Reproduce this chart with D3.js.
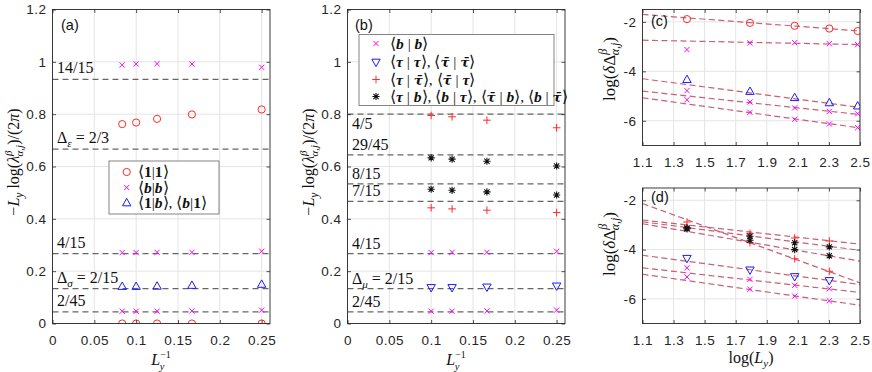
<!DOCTYPE html>
<html><head><meta charset="utf-8">
<script src="https://cdn.jsdelivr.net/npm/d3@7"></script>
<style>
body{margin:0;background:#fff;}
svg{display:block;}
</style></head>
<body>
<svg id="chart" width="872" height="372"></svg>
<script>
// ---------------- DATA ----------------
const LyA = [12, 10, 8, 6, 4];           // panel (a): x = 1/Ly
const LyB = [10, 8, 6, 4];               // panel (b)
const LyC = [4, 6, 8, 10, 12];           // panel (c): x = log(Ly)
const LyD = [4, 6, 8, 10];               // panel (d)

// panel (a)
const a_11_low  = [0, 0, 0, 0, 0];
const a_11_high = [0.762, 0.768, 0.782, 0.799, 0.818];
const a_bb_top  = [0.988, 0.992, 0.993, 0.992, 0.979];
const a_bb_mid  = [0.271, 0.271, 0.272, 0.272, 0.276];
const a_bb_low  = [0.047, 0.047, 0.047, 0.048, 0.051];
const a_1b      = [0.141, 0.141, 0.142, 0.145, 0.149];

// panel (b)
const b_bb_mid   = [0.271, 0.272, 0.272, 0.276];
const b_bb_low   = [0.047, 0.047, 0.048, 0.051];
const b_tt       = [0.138, 0.138, 0.140, 0.144];
const b_ttb_high = [0.795, 0.790, 0.777, 0.748];
const b_ttb_low  = [0.442, 0.438, 0.433, 0.424];
const b_tb_high  = [0.633, 0.628, 0.620, 0.602];
const b_tb_low   = [0.513, 0.509, 0.503, 0.491];

// panel (c)
const c_11  = [-1.89, -2.04, -2.16, -2.27, -2.37];
const c_bb1 = [-3.12, -2.85, -2.84, -2.88, -2.92];
const c_1b  = [-4.34, -4.82, -5.07, -5.28, -5.41];
const c_bb2 = [-4.78, -5.24, -5.48, -5.62, -5.72];
const c_bb3 = [-5.15, -5.66, -5.94, -6.13, -6.28];
// fitted lines: values at log(Ly) = 1.1 and 2.5
const fitX = [1.1, 2.5];
const c_fits = [[-1.70, -2.37], [-2.74, -2.92], [-4.30, -5.46], [-4.80, -5.75], [-5.07, -6.29]];

// panel (d)
const d_ttbA = [-3.10, -3.34, -3.53, -3.65];
const d_tbB  = [-3.12, -3.46, -3.72, -3.89];
const d_tbC  = [-3.16, -3.62, -4.00, -4.25];
const d_ttbD = [-2.88, -3.72, -4.37, -4.88];
const d_tt   = [-4.35, -4.82, -5.09, -5.25];
const d_bb2  = [-4.74, -5.21, -5.45, -5.59];
const d_bb3  = [-5.11, -5.61, -5.89, -6.08];
const d_fits = [[-2.80, -3.78], [-2.87, -4.03], [-2.95, -4.47], [-2.13, -5.35], [-4.23, -5.42], [-4.74, -5.74], [-5.00, -6.26]];

// reference lines
const refA_values = [14/15, 2/3, 4/15, 2/15, 2/45];
const refA_labels = ["14/15", "Δ_ε = 2/3", "4/15", "Δ_σ = 2/15", "2/45"];
const refB_values = [4/5, 29/45, 8/15, 7/15, 4/15, 2/15, 2/45];
const refB_labels = ["4/5", "29/45", "8/15", "7/15", "4/15", "Δ_μ = 2/15", "2/45"];
const refB_below  = [true, false, false, false, false, false, false];

// ticks
const tickAB_x = [0, 0.05, 0.1, 0.15, 0.2, 0.25];
const tickAB_xl = ["0", "0.05", "0.1", "0.15", "0.2", "0.25"];
const tickAB_y = [0, 0.2, 0.4, 0.6, 0.8, 1, 1.2];
const tickAB_yl = ["0", "0.2", "0.4", "0.6", "0.8", "1", "1.2"];
const tickCD_x = [1.1, 1.3, 1.5, 1.7, 1.9, 2.1, 2.3, 2.5];
const tickCD_xl = ["1.1", "1.3", "1.5", "1.7", "1.9", "2.1", "2.3", "2.5"];
const tickCD_y = [-6, -4, -2];
const tickCD_yl = ["-6", "-4", "-2"];

// ---------------- STYLE ----------------
const RED = "#ff2a2a", MAG = "#ff00ff", BLUE = "#1a1aff", BLK = "#111";
const FIT = "#c24f68";
const SERIF = "'Liberation Serif','Times New Roman',serif";
const SANS = "'Liberation Sans',Arial,sans-serif";
const AXC = "#262626";

const svg = d3.select("#chart");

// -------------- helpers --------------
function marker(g, type, x, y, color) {
  const p = d3.path();
  if (type === "o") {
    g.append("circle").attr("cx", x).attr("cy", y).attr("r", 3.6)
      .attr("fill", "none").attr("stroke", color).attr("stroke-width", 1);
    return;
  }
  if (type === "x") {
    const s = 2.6;
    p.moveTo(x - s, y - s); p.lineTo(x + s, y + s);
    p.moveTo(x - s, y + s); p.lineTo(x + s, y - s);
  } else if (type === "+") {
    const s = 3.8;
    p.moveTo(x - s, y); p.lineTo(x + s, y);
    p.moveTo(x, y - s); p.lineTo(x, y + s);
  } else if (type === "*") {
    const s = 3.6, t = 2.6;
    p.moveTo(x - s, y); p.lineTo(x + s, y);
    p.moveTo(x, y - s); p.lineTo(x, y + s);
    p.moveTo(x - t, y - t); p.lineTo(x + t, y + t);
    p.moveTo(x - t, y + t); p.lineTo(x + t, y - t);
  } else if (type === "^") {
    p.moveTo(x, y - 4.6); p.lineTo(x + 4.2, y + 2.8); p.lineTo(x - 4.2, y + 2.8); p.closePath();
  } else if (type === "v") {
    p.moveTo(x, y + 4.6); p.lineTo(x + 4.2, y - 2.8); p.lineTo(x - 4.2, y - 2.8); p.closePath();
  }
  g.append("path").attr("d", p.toString()).attr("fill", "none")
    .attr("stroke", color).attr("stroke-width", type === "*" ? 1.1 : 1);
}

// math text with tspans; parts: {t, i, b, dy (offset from baseline), fs, dx, ff}
function mtext(g, x, y, parts, fs, anchor) {
  const t = g.append("text").attr("x", x).attr("y", y)
    .attr("font-family", SERIF).attr("font-size", fs).attr("fill", "#111")
    .attr("text-anchor", anchor || "start");
  let cur = 0;
  parts.forEach(p => {
    const ts = t.append("tspan").text(p.t);
    const target = p.dy || 0;
    if (target !== cur) { ts.attr("dy", target - cur); cur = target; }
    if (p.dx) ts.attr("dx", p.dx);
    if (p.i) ts.attr("font-style", "italic");
    if (p.b) ts.attr("font-weight", "bold");
    if (p.fs) ts.attr("font-size", p.fs);
    if (p.ff) ts.attr("font-family", p.ff);
  });
  return t;
}

function labelParts(s) {
  if (s.startsWith("Δ_")) {
    return [{t: "Δ"}, {t: s[2], i: true, dy: 4, fs: 11}, {t: s.slice(3), dy: 0}];
  }
  return [{t: s}];
}

function setupAxes(x, y, xt, yt) {
  const [x0, x1] = x.range(), [y1, y0] = y.range();
  const g = svg.append("g");
  g.selectAll(null).data(xt).enter().append("line")
    .attr("x1", d => x(d)).attr("x2", d => x(d)).attr("y1", y0).attr("y2", y1)
    .attr("stroke", "#e4e4e4").attr("stroke-width", 1);
  g.selectAll(null).data(yt).enter().append("line")
    .attr("y1", d => y(d)).attr("y2", d => y(d)).attr("x1", x0).attr("x2", x1)
    .attr("stroke", "#e4e4e4").attr("stroke-width", 1);
  return g;
}

function finishAxes(x, y, xt, xtl, yt, ytl) {
  const [x0, x1] = x.range(), [y1, y0] = y.range();
  const g = svg.append("g");
  const style = sel => {
    sel.select(".domain").remove();
    sel.selectAll(".tick line").attr("stroke", AXC).attr("stroke-width", 0.8);
    sel.selectAll(".tick text").attr("fill", AXC).attr("font-family", SANS)
      .attr("font-size", 13.5).attr("letter-spacing", 0.5);
  };
  const bottom = d3.axisBottom(x).tickValues(xt).tickSizeInner(-3.5).tickSizeOuter(0).tickPadding(12)
    .tickFormat((d, i) => xtl[i]);
  g.append("g").attr("transform", `translate(0,${y1})`).call(bottom).call(style);
  const top = d3.axisTop(x).tickValues(xt).tickSizeInner(-3.5).tickSizeOuter(0).tickFormat("");
  g.append("g").attr("transform", `translate(0,${y0})`).call(top).call(style);
  const left = d3.axisLeft(y).tickValues(yt).tickSizeInner(-3.5).tickSizeOuter(0).tickPadding(6)
    .tickFormat((d, i) => ytl[i]);
  g.append("g").attr("transform", `translate(${x0},0)`).call(left).call(style);
  const right = d3.axisRight(y).tickValues(yt).tickSizeInner(-3.5).tickSizeOuter(0).tickFormat("");
  g.append("g").attr("transform", `translate(${x1},0)`).call(right).call(style);
  g.append("rect").attr("x", x0).attr("y", y0).attr("width", x1 - x0).attr("height", y1 - y0)
    .attr("fill", "none").attr("stroke", AXC).attr("stroke-width", 0.9);
}

function clipFor(id, x, y) {
  const [x0, x1] = x.range(), [y1, y0] = y.range();
  svg.append("clipPath").attr("id", id).append("rect")
    .attr("x", x0).attr("y", y0).attr("width", x1 - x0).attr("height", y1 - y0);
  return "url(#" + id + ")";
}

function series(g, xs, ys, type, color, x, y) {
  xs.forEach((xv, i) => marker(g, type, x(xv), y(ys[i]), color));
}

function ylabelLambda(cx, cy) {
  const g = svg.append("g").attr("transform", `translate(${cx},${cy}) rotate(-90)`);
  mtext(g, 0, 0, [
    {t: "−"}, {t: "L", i: true}, {t: "y", i: true, dy: 4, fs: 11.5},
    {t: " log(", dy: 0}, {t: "λ", i: true}, {t: "β", i: true, dy: -7, fs: 11},
    {t: "α,j", i: true, dy: 4, fs: 11, dx: -6}, {t: ")/(2", dy: 0}, {t: "π", i: true}, {t: ")"}
  ], 16, "middle");
}
function ylabelDelta(cx, cy) {
  const g = svg.append("g").attr("transform", `translate(${cx},${cy}) rotate(-90)`);
  mtext(g, 0, 0, [
    {t: "log("}, {t: "δ", i: true}, {t: "Δ"}, {t: "β", i: true, dy: -8, fs: 12},
    {t: "α,j", i: true, dy: 4, fs: 12, dx: -6.5}, {t: ")", dy: 0}
  ], 17, "middle");
}
function xlabelInvL(cx, cy) {
  mtext(svg, cx, cy, [
    {t: "L", i: true}, {t: "−1", dy: -7.5, fs: 10}, {t: "y", i: true, dy: 4.5, fs: 10.5, dx: -11}
  ], 16, "middle");
}

// ---------------- PANEL (a) ----------------
const xa = d3.scaleLinear().domain([0, 0.26]).range([52.5, 270]);
const ya = d3.scaleLinear().domain([0, 1.2]).range([323.5, 9.5]);
setupAxes(xa, ya, tickAB_x, tickAB_y);
const ga = svg.append("g").attr("clip-path", clipFor("ca", xa, ya));
refA_values.forEach(v => ga.append("line").attr("x1", xa.range()[0]).attr("x2", xa.range()[1])
  .attr("y1", ya(v)).attr("y2", ya(v)).attr("stroke", "#666").attr("stroke-width", 1.2)
  .attr("stroke-dasharray", "6,4"));
const xA = LyA.map(L => 1 / L);
series(ga, xA, a_11_low, "o", RED, xa, ya);
series(ga, xA, a_11_high, "o", RED, xa, ya);
series(ga, xA, a_bb_top, "x", MAG, xa, ya);
series(ga, xA, a_bb_mid, "x", MAG, xa, ya);
series(ga, xA, a_bb_low, "x", MAG, xa, ya);
series(ga, xA, a_1b, "^", BLUE, xa, ya);
refA_values.forEach((v, i) => mtext(svg, 57, ya(v) - 6, labelParts(refA_labels[i]), 16));
finishAxes(xa, ya, tickAB_x, tickAB_xl, tickAB_y, tickAB_yl);
svg.append("text").attr("x", 61).attr("y", 30).attr("font-family", SANS).attr("font-size", 14.5)
  .attr("fill", "#111").text("(a)");

// legend (a)
{
  const lg = svg.append("g");
  lg.append("rect").attr("x", 109).attr("y", 161).attr("width", 110).attr("height", 53)
    .attr("fill", "#fff").attr("stroke", "#777").attr("stroke-width", 0.9);
  const rows = [172, 187.5, 203];
  marker(lg, "o", 126.7, rows[0], RED);
  marker(lg, "x", 126.7, rows[1], MAG);
  marker(lg, "^", 126.7, rows[2], BLUE);
  mtext(lg, 138, rows[0] + 5, [{t: "⟨"}, {t: "1", b: true}, {t: "|"}, {t: "1", b: true}, {t: "⟩"}], 15.5);
  mtext(lg, 138, rows[1] + 5, [{t: "⟨"}, {t: "b", b: true, i: true}, {t: "|"}, {t: "b", b: true, i: true}, {t: "⟩"}], 15.5);
  mtext(lg, 138, rows[2] + 5, [{t: "⟨"}, {t: "1", b: true}, {t: "|"}, {t: "b", b: true, i: true}, {t: "⟩, ⟨"},
    {t: "b", b: true, i: true}, {t: "|"}, {t: "1", b: true}, {t: "⟩"}], 15.5);
}
ylabelLambda(19, 162);
xlabelInvL(161, 365);

// ---------------- PANEL (b) ----------------
const xb = d3.scaleLinear().domain([0, 0.26]).range([347.5, 565]);
const yb = d3.scaleLinear().domain([0, 1.2]).range([323.5, 9.5]);
setupAxes(xb, yb, tickAB_x, tickAB_y);
const gb = svg.append("g").attr("clip-path", clipFor("cb", xb, yb));
refB_values.forEach(v => gb.append("line").attr("x1", xb.range()[0]).attr("x2", xb.range()[1])
  .attr("y1", yb(v)).attr("y2", yb(v)).attr("stroke", "#666").attr("stroke-width", 1.2)
  .attr("stroke-dasharray", "6,4"));
const xB = LyB.map(L => 1 / L);
series(gb, xB, b_bb_mid, "x", MAG, xb, yb);
series(gb, xB, b_bb_low, "x", MAG, xb, yb);
series(gb, xB, b_tt, "v", BLUE, xb, yb);
series(gb, xB, b_ttb_high, "+", RED, xb, yb);
series(gb, xB, b_ttb_low, "+", RED, xb, yb);
series(gb, xB, b_tb_high, "*", BLK, xb, yb);
series(gb, xB, b_tb_low, "*", BLK, xb, yb);
refB_values.forEach((v, i) => mtext(svg, 352, refB_below[i] ? yb(v) + 15 : yb(v) - 5,
  labelParts(refB_labels[i]), 16));
finishAxes(xb, yb, tickAB_x, tickAB_xl, tickAB_y, tickAB_yl);
svg.append("text").attr("x", 355).attr("y", 30).attr("font-family", SANS).attr("font-size", 14.5)
  .attr("fill", "#111").text("(b)");
{
  const lg = svg.append("g");
  lg.append("rect").attr("x", 359).attr("y", 34.5).attr("width", 195).attr("height", 71)
    .attr("fill", "#fff").attr("stroke", "#777").attr("stroke-width", 0.9);
  const rows = [43.5, 62, 79.5, 96.5];
  marker(lg, "x", 376, rows[0], MAG);
  marker(lg, "v", 376, rows[1], BLUE);
  marker(lg, "+", 376, rows[2], RED);
  marker(lg, "*", 376, rows[3], BLK);
  const T = {t: "τ", b: true, i: true};
  const Tb = {t: "τ̄", b: true, i: true, ff: "'DejaVu Serif',serif", fs: 13.5};
  const B = {t: "b", b: true, i: true};
  const bra = (u, v) => [{t: "⟨"}, u, {t: " | "}, v, {t: "⟩"}];
  mtext(lg, 390, rows[0] + 5, bra(B, B), 15.5);
  mtext(lg, 390, rows[1] + 5, [...bra(T, T), {t: ", "}, ...bra(Tb, Tb)], 15.5);
  mtext(lg, 390, rows[2] + 5, [...bra(T, Tb), {t: ", "}, ...bra(Tb, T)], 15.5);
  mtext(lg, 390, rows[3] + 5, [...bra(T, B), {t: ", "}, ...bra(B, T), {t: ", "}, ...bra(Tb, B), {t: ", "}, ...bra(B, Tb)], 15.5);
}
ylabelLambda(314, 162);
xlabelInvL(456, 365);

// ---------------- PANEL (c) ----------------
const xc = d3.scaleLinear().domain([1.1, 2.5]).range([642.5, 860]);
const yc = d3.scaleLinear().domain([-7, -1.5]).range([145.5, 9.5]);
setupAxes(xc, yc, tickCD_x, tickCD_y);
const gc = svg.append("g").attr("clip-path", clipFor("cc", xc, yc));
c_fits.forEach(f => gc.append("line").attr("x1", xc(fitX[0])).attr("x2", xc(fitX[1]))
  .attr("y1", yc(f[0])).attr("y2", yc(f[1])).attr("stroke", FIT).attr("stroke-width", 1.2)
  .attr("stroke-dasharray", "6,3.5").attr("opacity", 0.9));
const xC = LyC.map(L => Math.log(L));
series(gc, xC, c_11, "o", RED, xc, yc);
series(gc, xC, c_bb1, "x", MAG, xc, yc);
series(gc, xC, c_1b, "^", BLUE, xc, yc);
series(gc, xC, c_bb2, "x", MAG, xc, yc);
series(gc, xC, c_bb3, "x", MAG, xc, yc);
finishAxes(xc, yc, tickCD_x, tickCD_xl, tickCD_y, tickCD_yl);
svg.append("text").attr("x", 651).attr("y", 26).attr("font-family", SANS).attr("font-size", 14.5)
  .attr("fill", "#111").text("(c)");
ylabelDelta(615, 69);

// ---------------- PANEL (d) ----------------
const xd = d3.scaleLinear().domain([1.1, 2.5]).range([642.5, 860]);
const yd = d3.scaleLinear().domain([-7, -1.5]).range([323.5, 188]);
setupAxes(xd, yd, tickCD_x, tickCD_y);
const gd = svg.append("g").attr("clip-path", clipFor("cd", xd, yd));
d_fits.forEach(f => gd.append("line").attr("x1", xd(fitX[0])).attr("x2", xd(fitX[1]))
  .attr("y1", yd(f[0])).attr("y2", yd(f[1])).attr("stroke", FIT).attr("stroke-width", 1.2)
  .attr("stroke-dasharray", "6,3.5").attr("opacity", 0.9));
const xD = LyD.map(L => Math.log(L));
series(gd, xD, d_tt, "v", BLUE, xd, yd);
series(gd, xD, d_bb2, "x", MAG, xd, yd);
series(gd, xD, d_bb3, "x", MAG, xd, yd);
series(gd, xD, d_ttbA, "+", RED, xd, yd);
series(gd, xD, d_ttbD, "+", RED, xd, yd);
series(gd, xD, d_tbB, "*", BLK, xd, yd);
series(gd, xD, d_tbC, "*", BLK, xd, yd);
finishAxes(xd, yd, tickCD_x, tickCD_xl, tickCD_y, tickCD_yl);
svg.append("text").attr("x", 651).attr("y", 202).attr("font-family", SANS).attr("font-size", 14.5)
  .attr("fill", "#111").text("(d)");
ylabelDelta(615, 244);
mtext(svg, 751, 363, [{t: "log("}, {t: "L", i: true}, {t: "y", i: true, dy: 4, fs: 11}, {t: ")", dy: 0}], 16, "middle");
</script>
</body></html>
